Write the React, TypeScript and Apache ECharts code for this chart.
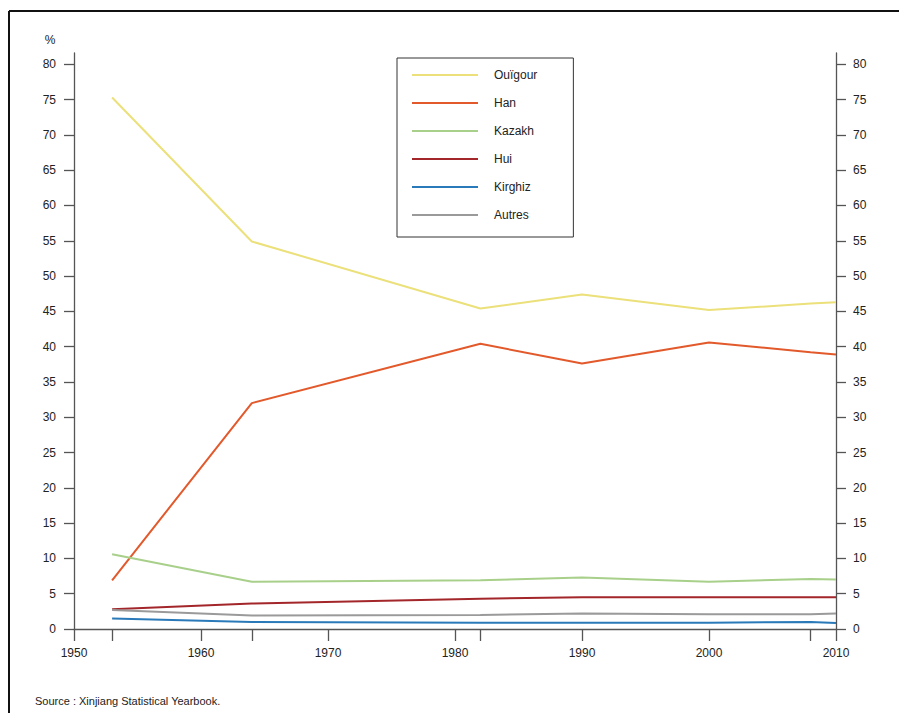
import React, { useEffect, useRef } from "react";
import * as echarts from "echarts";

const years = [1953, 1964, 1982, 1990, 2000, 2008, 2010];
const seriesNames = ["Ouïgour", "Han", "Kazakh", "Hui", "Kirghiz", "Autres"];
const ouigour = [75.3, 54.9, 45.4, 47.4, 45.2, 46.1, 46.3];
const han = [6.9, 32.0, 40.4, 37.6, 40.6, 39.2, 38.9];
const kazakh = [10.6, 6.7, 6.9, 7.3, 6.7, 7.1, 7.0];
const hui = [2.8, 3.6, 4.3, 4.5, 4.5, 4.5, 4.5];
const kirghiz = [1.5, 1.0, 0.9, 0.9, 0.9, 1.0, 0.85];
const autres = [2.7, 1.9, 2.0, 2.2, 2.1, 2.1, 2.2];
const colors = ["#ebe07a", "#e2592b", "#a8d08a", "#a3262a", "#2a7ab9", "#9a9a9a"];
const yTicks = [0, 5, 10, 15, 20, 25, 30, 35, 40, 45, 50, 55, 60, 65, 70, 75, 80];
const xLabelTicks = [1950, 1960, 1970, 1980, 1990, 2000, 2010];
const xTicks = [1950, 1953, 1960, 1964, 1970, 1980, 1982, 1990, 2000, 2008, 2010];
const sourceText = "Source : Xinjiang Statistical Yearbook.";

const FONT = "Liberation Sans, Arial, sans-serif";

export default function App() {
  const ref = useRef<HTMLDivElement>(null);
  useEffect(() => {
    if (!ref.current) return;
    const chart = echarts.init(ref.current, null, { renderer: "svg" });
    const allValues = [ouigour, han, kazakh, hui, kirghiz, autres];
    const axisLine = { show: true, lineStyle: { color: "#555", width: 1.3 } };
    const yAxisCommon = {
      type: "value" as const,
      min: 0,
      max: 81.6,
      interval: 5,
      splitLine: { show: false },
      axisLine,
      axisTick: { show: true, length: 10, lineStyle: { color: "#555", width: 1.3 }, customValues: yTicks },
      axisLabel: { color: "#222", fontSize: 12, fontFamily: FONT, margin: 18, customValues: yTicks },
    };
    chart.setOption({
      animation: false,
      backgroundColor: "#fff",
      textStyle: { fontFamily: FONT },
      grid: { left: 74, right: 63, top: 53, bottom: 84 },
      legend: {
        orient: "vertical",
        left: 397,
        top: 58,
        data: seriesNames.map((name) => ({ name, icon: "rect" })),
        itemWidth: 66,
        itemHeight: 2,
        itemGap: 16,
        padding: [11, 36, 16, 15],
        borderColor: "#333",
        borderWidth: 1,
        textStyle: { color: "#222", fontSize: 12, fontFamily: FONT, padding: [0, 0, 0, 11] },
      },
      xAxis: {
        type: "value",
        min: 1950,
        max: 2010,
        interval: 10,
        splitLine: { show: false },
        axisLine,
        axisTick: { show: true, length: 12, lineStyle: { color: "#555", width: 1.3 }, customValues: xTicks },
        axisLabel: {
          color: "#222",
          fontSize: 12,
          fontFamily: FONT,
          margin: 18,
          customValues: xLabelTicks,
          formatter: (v: number) => String(v),
        },
      },
      yAxis: [
        { ...yAxisCommon, position: "left" },
        { ...yAxisCommon, position: "right", axisLabel: { ...yAxisCommon.axisLabel, margin: 17 } },
      ],
      series: seriesNames.map((name, i) => ({
        name,
        type: "line",
        symbol: "none",
        data: years.map((y, j) => [y, allValues[i][j]]),
        lineStyle: { color: colors[i], width: 2 },
        itemStyle: { color: colors[i] },
      })),
      graphic: [
        { type: "line", shape: { x1: 9, y1: 11, x2: 899, y2: 11 }, style: { stroke: "#111", lineWidth: 2 } },
        { type: "line", shape: { x1: 9, y1: 11, x2: 9, y2: 713 }, style: { stroke: "#111", lineWidth: 2 } },
        { type: "text", x: 50, y: 40, style: { text: "%", fill: "#222", font: `12px ${FONT}`, align: "center", verticalAlign: "middle" } },
        { type: "text", x: 35, y: 701, style: { text: sourceText, fill: "#222", font: `11px ${FONT}`, align: "left", verticalAlign: "middle" } },
      ],
    });
    return () => chart.dispose();
  }, []);
  return <div ref={ref} style={{ position: "fixed", left: 0, top: 0, width: 899, height: 713 }} />;
}
